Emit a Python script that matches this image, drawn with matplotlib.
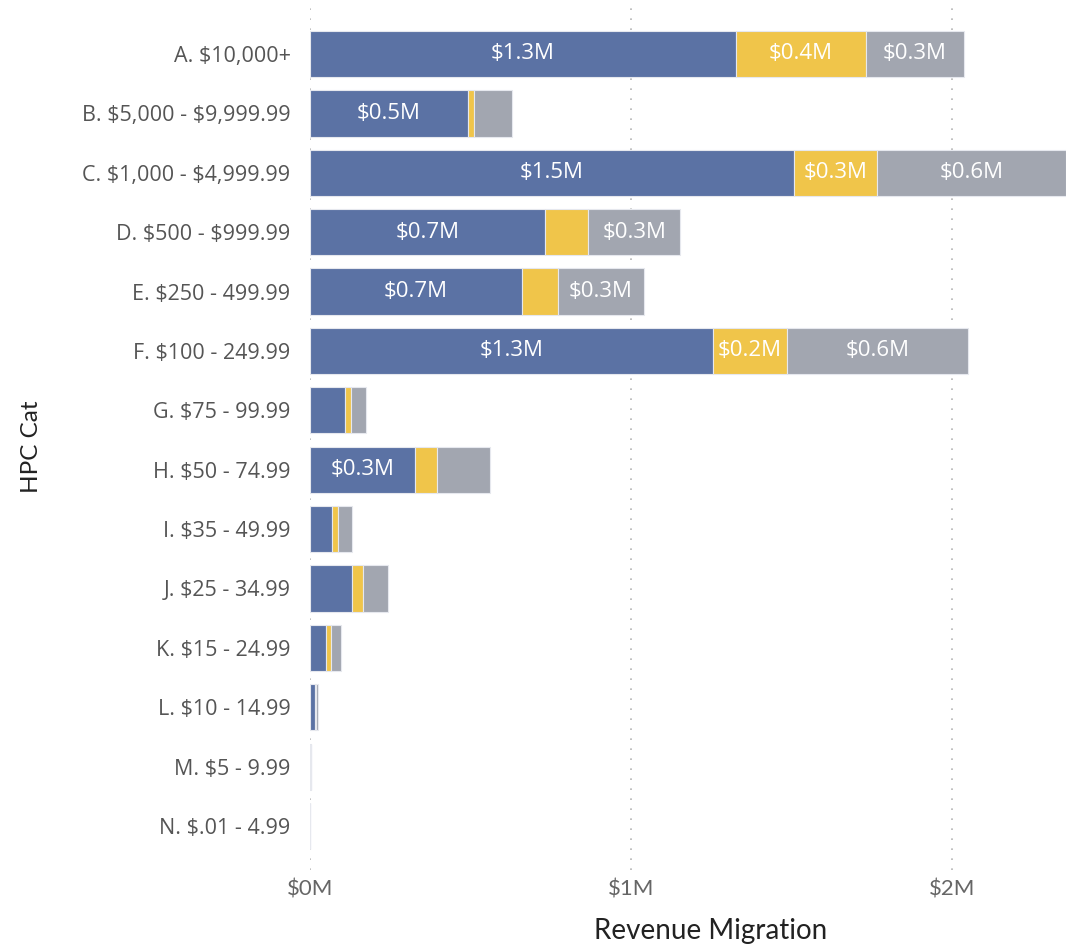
import numpy as np
import matplotlib.pyplot as plt
from matplotlib.ticker import FuncFormatter

plt.rcParams['text.parse_math'] = False

# revenue migration by HPC category, in $M
categories = ["A. $10,000+", "B. $5,000 - $9,999.99", "C. $1,000 - $4,999.99",
              "D. $500 - $999.99", "E. $250 - 499.99", "F. $100 - 249.99",
              "G. $75 - 99.99", "H. $50 - 74.99", "I. $35 - 49.99",
              "J. $25 - 34.99", "K. $15 - 24.99", "L. $10 - 14.99",
              "M. $5 - 9.99", "N. $.01 - 4.99"]
blue_vals = [1.327, 0.492, 1.508, 0.732, 0.660, 1.255, 0.109, 0.327,
             0.069, 0.131, 0.050, 0.016, 0.003, 0.0003]
yellow_vals = [0.405, 0.019, 0.259, 0.134, 0.112, 0.231, 0.019, 0.069,
               0.019, 0.034, 0.016, 0.003, 0.0003, 0.0001]
gray_vals = [0.305, 0.118, 0.589, 0.287, 0.268, 0.564, 0.047, 0.165,
             0.044, 0.078, 0.031, 0.006, 0.001, 0.0002]
x_ticks = [0, 1, 2]

colors = ["#5b72a4", "#f0c54a", "#a2a6b0"]
series = [blue_vals, yellow_vals, gray_vals]

fig = plt.figure(figsize=(10.66, 9.46), dpi=100)
ax = fig.add_axes([310 / 1066, 76 / 946, 756 / 1066, 865 / 946])

y = np.arange(len(categories))
left = np.zeros(len(categories))
for vals, col in zip(series, colors):
    vals = np.array(vals)
    ax.barh(y, vals, left=left, height=0.78, color=col,
            edgecolor="#e6e8ee", linewidth=0.8, zorder=2)
    for yi, l, v in zip(y, left, vals):
        if v >= 0.2:
            ax.text(l + v / 2, yi, f"${v:.1f}M", ha="center", va="center",
                    color="white", fontsize=16, family="Open Sans", zorder=3)
    left += vals

ax.set_xlim(0, 2.355)
ax.set_ylim(13.74, -0.825)
ax.set_xticks(x_ticks)
ax.xaxis.set_major_formatter(FuncFormatter(lambda v, p: f"${v:.0f}M"))
ax.set_yticks(y)
ax.set_yticklabels(categories, family="Open Sans", fontsize=15.5, color="#555555")
ax.tick_params(axis="both", length=0)
ax.tick_params(axis="y", pad=14)
ax.tick_params(axis="x", pad=7, labelsize=16, labelcolor="#666666")
for lab in ax.get_xticklabels():
    lab.set_family("Lato")

ax.grid(axis="x", linestyle=(0, (1, 5)), color="#b5b5b5", linewidth=1.2, zorder=0)
for s in ax.spines.values():
    s.set_visible(False)

fig.text(711 / 1066, 1 - 931 / 946, "Revenue Migration", ha="center",
         va="center", fontsize=20, family="Lato", color="#222222")
fig.text(32 / 1066, 1 - 447 / 946, "HPC Cat", rotation=90, ha="center",
         va="center", fontsize=17.5, family="Lato", color="#222222")

fig.savefig("out.png", dpi=100)
